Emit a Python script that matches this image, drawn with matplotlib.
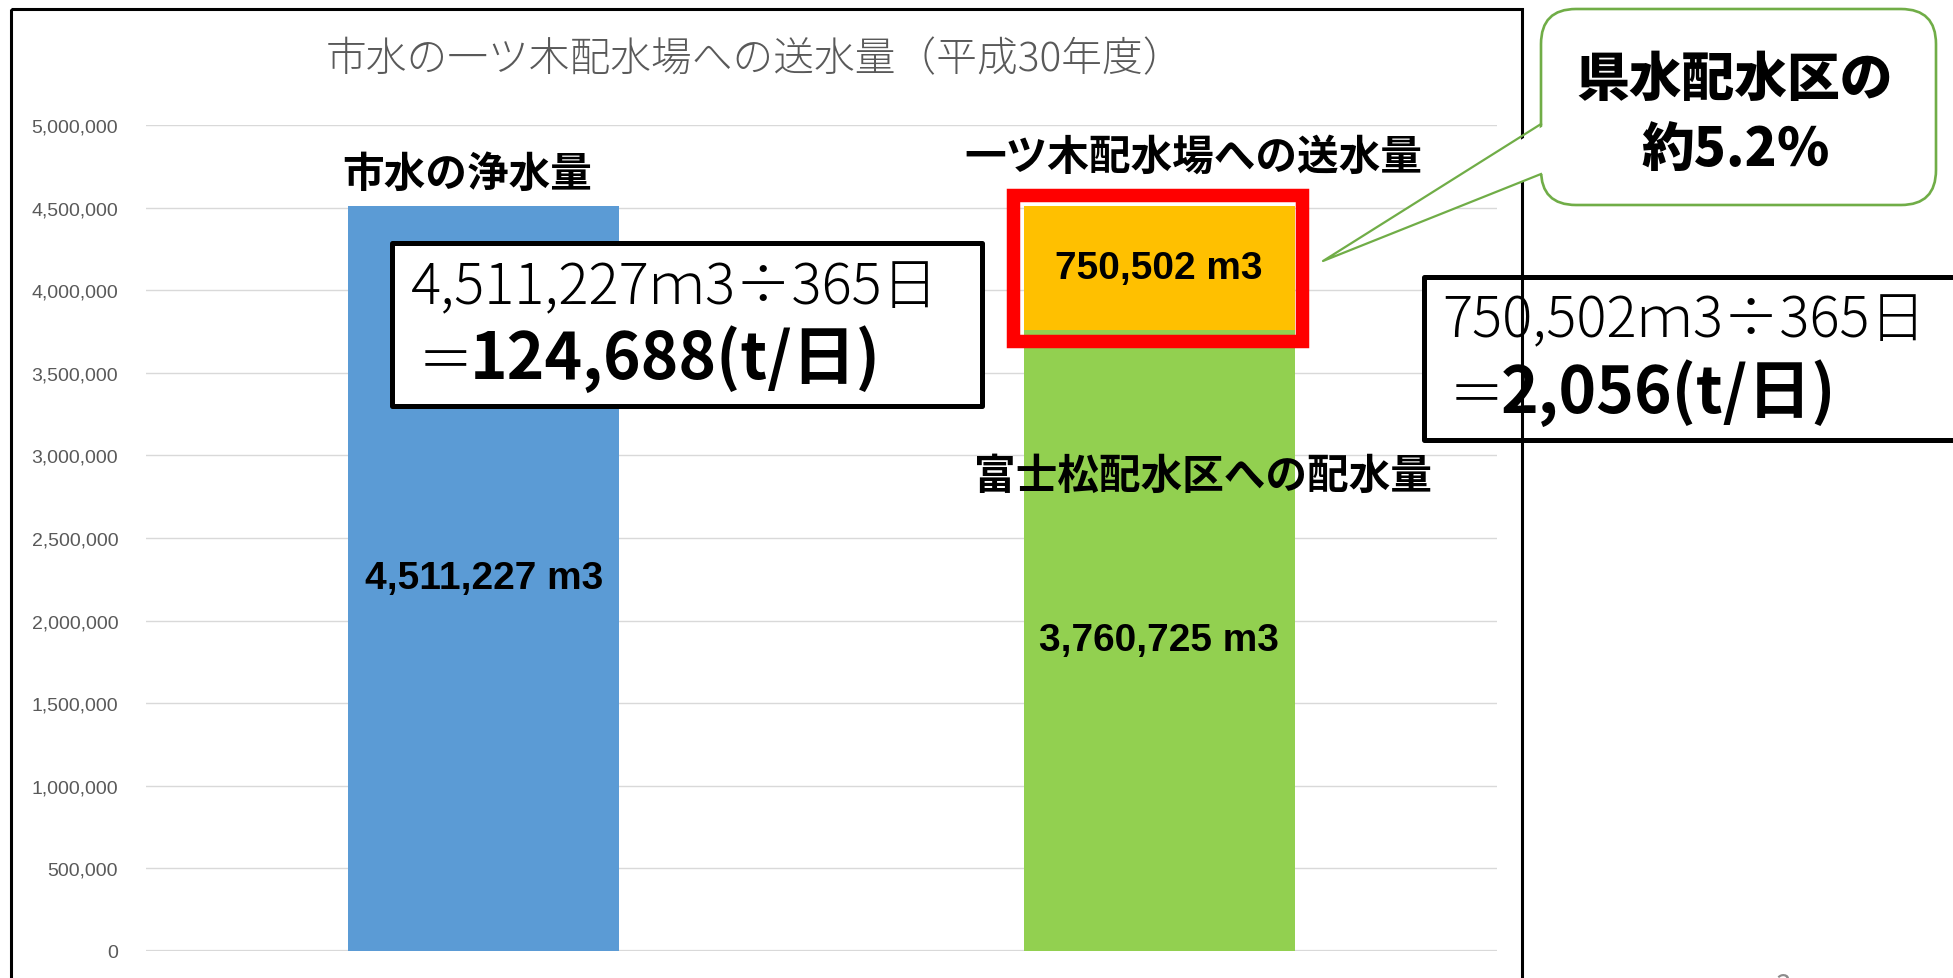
import matplotlib
matplotlib.use('Agg')
import matplotlib.pyplot as plt
import matplotlib.transforms as mtransforms
from matplotlib.patches import Rectangle, FancyBboxPatch, Polygon
from matplotlib.lines import Line2D
from matplotlib.ticker import FuncFormatter
import numpy as np

plt.rcParams['font.family'] = ['Noto Sans CJK JP', 'DejaVu Sans']

# data
title = '市水の一ツ木配水場への送水量（平成30年度）'
bar_x = [0, 1]
purified = 4511227      # 市水の浄水量
fujimatsu = 3760725     # 富士松配水区への配水量
hitotsugi = 750502      # 一ツ木配水場への送水量
name_purified = '市水の浄水量'
name_hitotsugi = '一ツ木配水場への送水量'
name_fujimatsu = '富士松配水区への配水量'
calc1 = ['4,511,227ｍ3÷365日', '＝', '124,688(t/日)']
calc2 = ['750,502ｍ3÷365日', '＝', '2,056(t/日)']
callout = ['県水配水区の', '約5.2％']

W, H = 1953, 979
fig = plt.figure(figsize=(W / 100, H / 100), dpi=100)
# reference pixel coords (origin top-left)
ref = mtransforms.Affine2D().scale(1 / W, -1 / H).translate(0, 1) + fig.transFigure

ax = fig.add_axes([146 / W, 1 - 952 / H, (1497 - 146) / W, (952 - 126) / H])
bw = 0.401
ax.bar(bar_x[0], purified, bw, color='#5B9BD5', zorder=2)
ax.bar(bar_x[1], fujimatsu, bw, color='#92D050', zorder=2)
ax.bar(bar_x[1], hitotsugi, bw, bottom=fujimatsu, color='#FFC000', zorder=2)

ax.set_xlim(-0.5, 1.5)
ax.set_ylim(0, 5000000)
ax.set_yticks(np.arange(0, 5000001, 500000))
ax.yaxis.set_major_formatter(FuncFormatter(lambda v, p: f'{int(v):,}'))
ax.set_xticks([])
ax.tick_params(axis='y', length=0, pad=20, labelsize=14, labelcolor='#595959')
for lab in ax.get_yticklabels():
    lab.set_family('Liberation Sans')
ax.grid(axis='y', color='#D9D9D9', lw=1.0, zorder=0)
ax.axhline(0, color='#D9D9D9', lw=1.6, zorder=1)
for s in ax.spines.values():
    s.set_visible(False)

# value labels centred in each segment
vfont = dict(family='Liberation Sans', weight='bold', size=28, ha='center', va='center', zorder=3)
ax.text(bar_x[0], purified / 2, f'{purified:,} m3', **vfont)
ax.text(bar_x[1], fujimatsu / 2, f'{fujimatsu:,} m3', **vfont)
ax.text(bar_x[1], fujimatsu + hitotsugi / 2, f'{hitotsugi:,} m3', **vfont)

# title and category labels
fig.text(755, 60, title, transform=ref, ha='center', va='center', size=29.3,
         color='#595959', weight='light')
fig.text(467, 175, name_purified, transform=ref, ha='center', va='center', size=30, weight='bold')
fig.text(1193, 158, name_hitotsugi, transform=ref, ha='center', va='center', size=30, weight='bold')
fig.text(1203, 477, name_fujimatsu, transform=ref, ha='center', va='center', size=30, weight='bold')

# red highlight around the orange segment
fig.add_artist(Rectangle((1012.75, 195.75), 289.5, 146.5, transform=ref, fill=False,
                         ec='#FF0000', lw=9.7, joinstyle='miter'))

# calculation boxes
def calc_box(x0, y0, w, h, lines, tx, base1, ex, base2):
    fig.add_artist(Rectangle((x0, y0), w, h, transform=ref, fc='white', ec='black',
                             lw=3.6, joinstyle='round'))
    fig.text(tx, base1, lines[0], transform=ref, ha='left', va='baseline', size=40.5,
             weight='light')
    t_eq = fig.text(ex, base2, lines[1], transform=ref, ha='left', va='baseline', size=40,
                    weight='light')
    fig.add_artist(plt.Annotation(lines[2], xy=(1, base2), xycoords=(t_eq, ref),
                                  xytext=(-3, 0), textcoords='offset points',
                                  ha='left', va='baseline', size=46, weight='bold'))

calc_box(391.5, 243.5, 590, 163, calc1, 411, 304, 418, 379)
calc_box(1423.5, 277.5, 600, 163, calc2, 1442, 337, 1449, 413)

# speech bubble
green = '#70AD47'
fig.add_artist(FancyBboxPatch((1541, 10), 395, 196, transform=ref,
                              boxstyle='round,pad=0,rounding_size=35',
                              fc='white', ec=green, lw=1.9))
tip = (1323, 262)
fig.add_artist(Polygon([tip, (1545, 126), (1545, 174)], closed=True, transform=ref,
                       fc='white', ec='none', zorder=1.6))
fig.add_artist(Line2D([1541, tip[0], 1541], [125, tip[1], 175], transform=ref,
                      color=green, lw=1.6, zorder=1.7))
fig.text(1735, 80, callout[0], transform=ref, ha='center', va='center', size=38,
         weight='black', zorder=4)
fig.text(1736, 151, callout[1], transform=ref, ha='center', va='center', size=38,
         weight='black', zorder=4)

# slide frame and page number
fig.add_artist(Rectangle((10.5, 9.7), 1511.5, 1000, transform=ref, fill=False,
                         ec='black', lw=2.2))
fig.text(1783, 972, '3', transform=ref, ha='center', va='top', size=20, color='#8C8C8C')

fig.savefig('out.png', dpi=100)
